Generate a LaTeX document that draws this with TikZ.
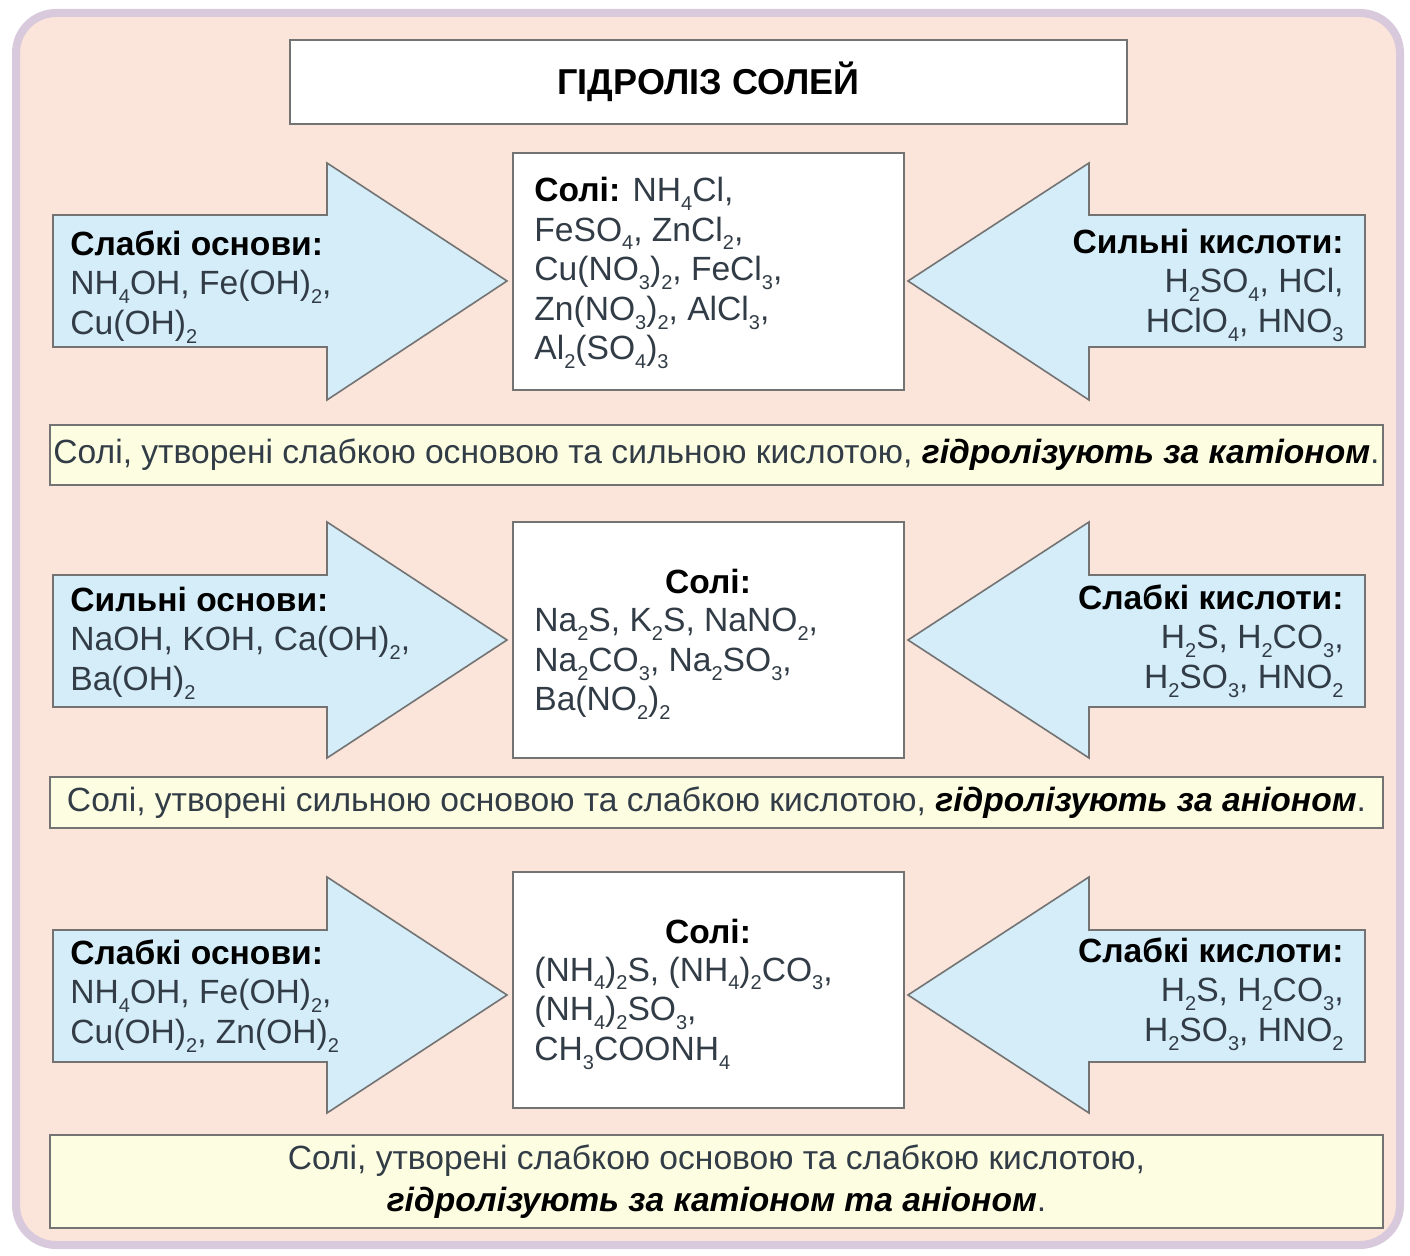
\documentclass[tikz,border=0pt]{standalone}
\usepackage{fontspec}
\setmainfont{Liberation Sans}
\usetikzlibrary{positioning}
\definecolor{panelpink}{RGB}{251,228,218}
\definecolor{panelrim}{RGB}{216,202,220}
\definecolor{arrowblue}{RGB}{212,237,248}
\definecolor{edgegray}{RGB}{115,115,115}
\definecolor{notecream}{RGB}{253,253,226}
\definecolor{inkgray}{RGB}{50,60,70}
\newcommand{\sbs}[1]{\raisebox{-0.5ex}{\fontsize{10}{10}\selectfont #1}}
\newcommand{\hd}[1]{{\bfseries\color{black}#1}}

\tikzset{
  saltbox/.style={draw=edgegray, fill=white, line width=1.2pt},
  notebox/.style={draw=edgegray, fill=notecream, line width=1.2pt},
  fatarrow/.style={draw=edgegray, fill=arrowblue, line width=0.8pt, line join=miter},
  txt/.style={font=\fontsize{16.8}{19.8}\selectfont, text=inkgray, inner sep=0pt},
}

\begin{document}
\begin{tikzpicture}[x=0.5pt, y=-0.5pt]
  \useasboundingbox (0,0) rectangle (1410,1256);
  \fill[white] (0,0) rectangle (1410,1256);

  % Background panel
  \draw[panelrim, line width=4pt, fill=panelpink, rounded corners=20pt]
    (16,13) rectangle (1400,1245);

  % Title
  \node[saltbox, minimum width=418.5pt, minimum height=42pt,
    font=\fontsize{18}{21}\selectfont\bfseries] (title) at (708.5,82)
    {ГІДРОЛІЗ СОЛЕЙ};

  % Fat arrows, one pair per row
  \foreach \hu/\bu/\tp/\bd/\hb in {163/215/281/347/400,
                                   522/575/640/707/758,
                                   877/930/995/1062/1113}{
    \draw[fatarrow] (53,\bu) -- (327,\bu) -- (327,\hu) -- (507,\tp)
      -- (327,\hb) -- (327,\bd) -- (53,\bd) -- cycle;
    \draw[fatarrow] (1365,\bu) -- (1089,\bu) -- (1089,\hu) -- (908,\tp)
      -- (1089,\hb) -- (1089,\bd) -- (1365,\bd) -- cycle;
  }

  % Salt boxes
  \node[saltbox, minimum width=195.5pt, minimum height=118.5pt] (salt1) at (708.5,271.5) {};
  \node[saltbox, minimum width=195.5pt, minimum height=118pt] (salt2) at (708.5,640) {};
  \node[saltbox, minimum width=195.5pt, minimum height=118pt] (salt3) at (708.5,990) {};

  % Row 1: weak base + strong acid
  \node[txt, align=left, anchor=west] (base1) at (70,287)
    {\hd{Слабкі основи:}\\ NH\sbs{4}OH, Fe(OH)\sbs{2},\\ Cu(OH)\sbs{2}};
  \node[txt, align=left, anchor=west] (list1) at (534,273)
    {\hd{Солі:} NH\sbs{4}Cl,\\ FeSO\sbs{4}, ZnCl\sbs{2},\\ Cu(NO\sbs{3})\sbs{2}, FeCl\sbs{3},\\
     Zn(NO\sbs{3})\sbs{2}, AlCl\sbs{3},\\ Al\sbs{2}(SO\sbs{4})\sbs{3}};
  \node[txt, align=right, anchor=east] (acid1) at (1344,285)
    {\hd{Сильні кислоти:}\\ H\sbs{2}SO\sbs{4}, HCl,\\ HClO\sbs{4}, HNO\sbs{3}};
  \node[notebox, txt, minimum width=666.5pt, minimum height=30pt] (note1) at (716.5,455)
    {Солі, утворені слабкою основою та сильною кислотою, \hd{\itshape гідролізують за катіоном}.};

  % Row 2: strong base + weak acid
  \node[txt, align=left, anchor=west] (base2) at (70,643)
    {\hd{Сильні основи:}\\ NaOH, KOH, Ca(OH)\sbs{2},\\ Ba(OH)\sbs{2}};
  \node[txt] (head2) at (708,581) {\hd{Солі:}};
  \node[txt, align=left, anchor=west] (list2) at (534,664)
    {Na\sbs{2}S, K\sbs{2}S, NaNO\sbs{2},\\ Na\sbs{2}CO\sbs{3}, Na\sbs{2}SO\sbs{3},\\ Ba(NO\sbs{2})\sbs{2}};
  \node[txt, align=right, anchor=east] (acid2) at (1344,641)
    {\hd{Слабкі кислоти:}\\ H\sbs{2}S, H\sbs{2}CO\sbs{3},\\ H\sbs{2}SO\sbs{3}, HNO\sbs{2}};
  \node[notebox, txt, minimum width=666.5pt, minimum height=25.5pt] (note2) at (716.5,802.5)
    {Солі, утворені сильною основою та слабкою кислотою, \hd{\itshape гідролізують за аніоном}.};

  % Row 3: weak base + weak acid
  \node[txt, align=left, anchor=west] (base3) at (70,996)
    {\hd{Слабкі основи:}\\ NH\sbs{4}OH, Fe(OH)\sbs{2},\\ Cu(OH)\sbs{2}, Zn(OH)\sbs{2}};
  \node[txt] (head3) at (708,931) {\hd{Солі:}};
  \node[txt, align=left, anchor=west] (list3) at (534,1013)
    {(NH\sbs{4})\sbs{2}S, (NH\sbs{4})\sbs{2}CO\sbs{3},\\ (NH\sbs{4})\sbs{2}SO\sbs{3},\\ CH\sbs{3}COONH\sbs{4}};
  \node[txt, align=right, anchor=east] (acid3) at (1344,994)
    {\hd{Слабкі кислоти:}\\ H\sbs{2}S, H\sbs{2}CO\sbs{3},\\ H\sbs{2}SO\sbs{3}, HNO\sbs{2}};
  \node[notebox, txt, align=center, minimum width=666.5pt, minimum height=46.5pt] (note3) at (716.5,1181.5)
    {Солі, утворені слабкою основою та слабкою кислотою,\\[1pt] \hd{\itshape гідролізують за катіоном та аніоном}.};
\end{tikzpicture}
\end{document}
